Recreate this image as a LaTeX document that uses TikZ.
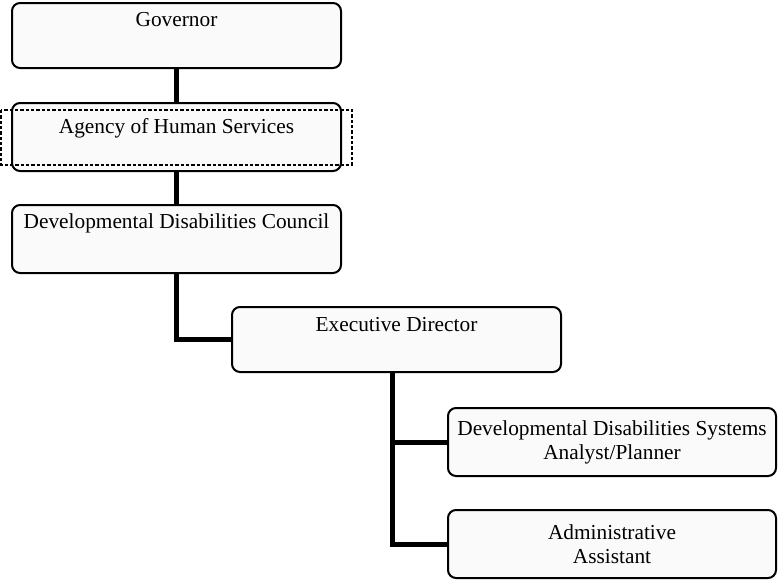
\documentclass[tikz,border=0pt]{standalone}
\usepackage{fontspec}
\setmainfont{Liberation Serif}
\begin{document}
\begin{tikzpicture}[x=0.75pt,y=-0.75pt,
  box/.style={draw, line width=1.5pt, rounded corners=6pt, fill=black!2, inner sep=0pt, outer sep=0pt, anchor=north west},
  wide/.style={minimum width=246.75pt},
  tall/.style={minimum height=51pt},
  short/.style={minimum height=48.75pt},
  conn/.style={line width=3.75pt},
  lbl/.style={font=\fontsize{16}{18}\selectfont, inner sep=0pt, anchor=base},
  two/.style={font=\fontsize{16}{18}\selectfont, align=center},
  sel/.style={draw, dashed, line width=0.8pt, dash pattern=on 2.5pt off 1.5pt}]
\useasboundingbox (0,0) rectangle (783,582);
\fill[white] (0,0) rectangle (783,582);
\node[box, wide, short] (gov) at (12,3) {};
\node[box, wide, tall] (ahs) at (12,103) {};
\node[box, wide, tall] (ddc) at (12,205) {};
\node[box, wide, short] (exec) at (232,307) {};
\node[box, minimum width=246pt, tall, two] (sys) at (448,408) {Developmental Disabilities Systems\\Analyst/Planner};
\node[box, minimum width=246pt, tall, two] (adm) at (448,510) {Administrative\\Assistant};
\node[lbl] (tgov) at ([yshift=-17.25pt]gov.north) {Governor};
\node[lbl] (tahs) at ([yshift=-22.5pt]ahs.north) {Agency of Human Services};
\node[lbl] (tddc) at ([yshift=-17.25pt]ddc.north) {Developmental Disabilities Council};
\node[lbl] (texec) at ([yshift=-18pt]exec.north) {Executive Director};
\draw[sel] (1,110) rectangle (352,165);
\draw[conn] (gov.south) -- (ahs.north);
\draw[conn] (ahs.south) -- (ddc.north);
\draw[conn] (ddc.south) |- (exec.west);
\draw[conn] ([xshift=-3pt]exec.south) |- (sys.west);
\draw[conn] ([xshift=-3pt]exec.south) |- (adm.west);
\end{tikzpicture}
\end{document}
